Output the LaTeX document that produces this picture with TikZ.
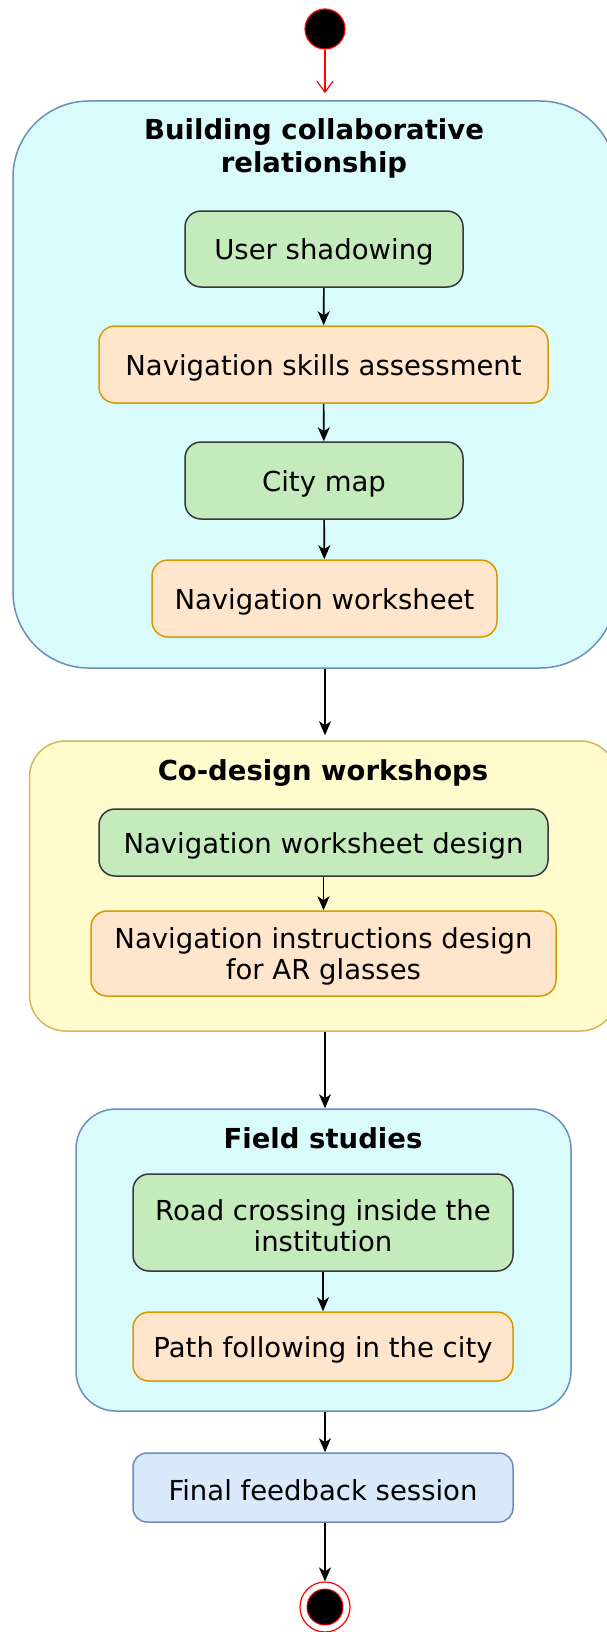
\documentclass[tikz,border=0pt]{standalone}
\usepackage{fontspec}
\setmainfont{DejaVu Sans}
\usepackage{xcolor}
\usetikzlibrary{arrows.meta,positioning}

\definecolor{cyanfill}{HTML}{D9FBFC}
\definecolor{bluestroke}{HTML}{6C8EBF}
\definecolor{bluefill}{HTML}{DAE8FC}
\definecolor{greenfill}{HTML}{C5EABC}
\definecolor{greystroke}{HTML}{36393D}
\definecolor{orangefill}{HTML}{FFE5CC}
\definecolor{orangestroke}{HTML}{D79B00}
\definecolor{yellowfill}{HTML}{FFFBCC}
\definecolor{yellowstroke}{HTML}{D6B656}

\tikzset{
  txt/.style={font=\fontsize{27.5pt}{31pt}\selectfont, align=center, inner sep=0pt,
    execute at begin node={\rule{0pt}{27pt}}},
  twolines/.style={text height=58pt, text depth=6.5pt},
  phase/.style={draw=bluestroke, fill=cyanfill, line width=1.5pt, rectangle},
  phasetitle/.style={txt, font=\fontsize{27.5pt}{33pt}\selectfont\bfseries},
  greenbox/.style={txt, draw=greystroke, fill=greenfill, line width=1.5pt, rounded corners=16pt},
  orangebox/.style={txt, draw=orangestroke, fill=orangefill, line width=1.5pt, rounded corners=16pt},
  bluebox/.style={txt, draw=bluestroke, fill=bluefill, line width=1.5pt, rounded corners=14pt},
  flow/.style={line width=1.6pt, -{Stealth[length=14pt,width=12pt,inset=4pt]}},
}

\begin{document}
\begin{tikzpicture}[x=1pt,y=-1pt]
\useasboundingbox[fill=white] (0,0) rectangle (606,1632);
% start
\node[circle, draw=red, fill=black, line width=1.2pt, minimum size=40pt, inner sep=0pt] (start) at (325,29) {};
% phase 1
\node[phase, rounded corners=76pt, minimum width=603pt, minimum height=567pt] (relation) at (314.5,384.5) {};
\node[phasetitle] (relationtitle) at (314,148) {Building collaborative\\relationship};
\node[greenbox, minimum width=278pt, minimum height=76pt] (shadow) at (324,249) {User shadowing};
\node[orangebox, minimum width=449pt, minimum height=77pt] (skills) at (323.5,364.5) {Navigation skills assessment};
\node[greenbox, minimum width=278pt, minimum height=77pt] (citymap) at (324,480.5) {City map};
\node[orangebox, minimum width=345pt, minimum height=77pt] (worksheet) at (324.5,598.5) {Navigation worksheet};
% phase 2
\node[phase, draw=yellowstroke, fill=yellowfill, rounded corners=36pt, minimum width=587pt, minimum height=290pt] (workshops) at (323,886) {};
\node[phasetitle] (workshopstitle) at (323,770) {Co-design workshops};
\node[greenbox, minimum width=449pt, minimum height=67pt] (wsdesign) at (323.5,842.5) {Navigation worksheet design};
\node[orangebox, twolines, minimum width=465pt, minimum height=85pt] (instructions) at (323.5,953.5) {Navigation instructions design\\for AR glasses};
% phase 3
\node[phase, rounded corners=40pt, minimum width=495pt, minimum height=302pt] (field) at (323.5,1260) {};
\node[phasetitle] (fieldtitle) at (323,1135.5) {Field studies};
\node[greenbox, twolines, text depth=0.5pt, minimum width=380pt, minimum height=97pt] (road) at (323,1222.5) {Road crossing inside the\\institution};
\node[orangebox, minimum width=380pt, minimum height=69pt] (path) at (323,1346.5) {Path following in the city};
% end
\node[bluebox, minimum width=380pt, minimum height=69pt] (feedback) at (323,1487.5) {Final feedback session};
\node[circle, draw=red, line width=1.2pt, minimum size=50pt, inner sep=0pt] (stop) at (325,1607) {};
\node[circle, draw=red, fill=black, line width=1pt, minimum size=36pt, inner sep=0pt] (stopdot) at (stop) {};

\draw[red, line width=1.2pt, shorten >=7pt, -{Straight Barb[length=11pt,width=16pt]}] (start) -- (relation.north -| start);
\draw[flow] (shadow) -- (skills);
\draw[flow] (skills) -- (citymap);
\draw[flow] (citymap) -- (worksheet);
\draw[flow, shorten >=5pt] (relation.south -| start) -- (workshops.north -| start);
\draw[flow] (wsdesign) -- (instructions);
\draw[flow] (workshops.south -| start) -- (field.north -| start);
\draw[flow] (road) -- (path);
\draw[flow] (field.south -| start) -- (feedback.north -| start);
\draw[flow] (feedback.south -| start) -- (stop);
\end{tikzpicture}
\end{document}
